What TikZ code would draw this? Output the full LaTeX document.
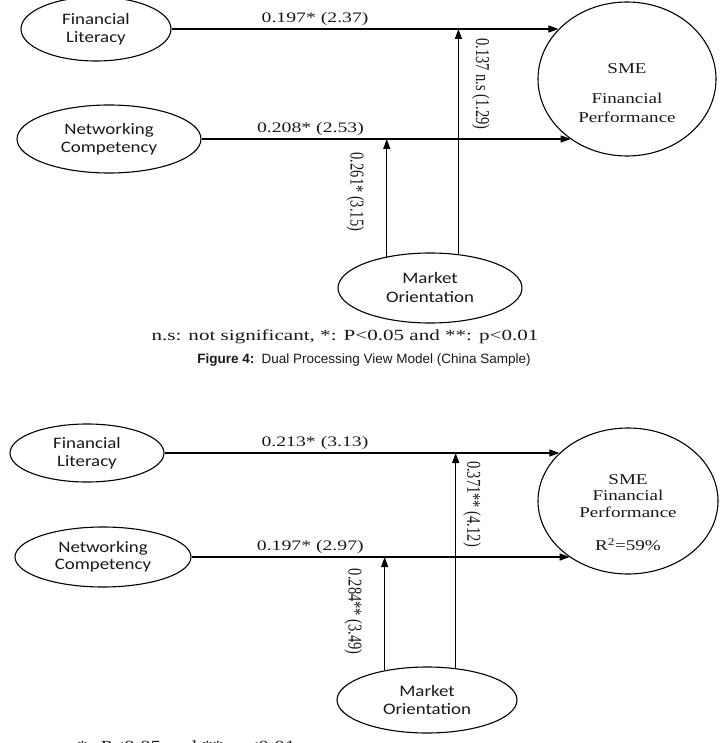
\documentclass[tikz,border=0pt]{standalone}
\usepackage{graphicx}
\usepackage{fontspec}
\setmainfont{Liberation Serif}
\newfontfamily\calfont{Carlito}
\newfontfamily\capfont{Liberation Sans}
\usetikzlibrary{arrows.meta,shapes.geometric}
% the figure image is stretched sideways, so its texts are too
\newcommand{\cw}[1]{\scalebox{1.18}[1]{#1}}
\newcommand{\sw}[1]{\scalebox{1.36}[1]{#1}}
\newcommand{\tw}[1]{\scalebox{1}[1.35]{#1}}

\begin{document}
\begin{tikzpicture}[
  x=1pt,y=-1pt,
  var/.style={draw,ellipse,line width=1.1pt,inner sep=0pt,align=center,text=black!90,font=\calfont\fontsize{16}{18}\selectfont},
  dv/.style={draw,ellipse,line width=1.1pt,inner sep=0pt,text=black!90,text height=0pt},
  coef/.style={font=\fontsize{14.5}{17}\selectfont,text=black!90,inner sep=2.5pt},
  vcoef/.style={coef,rotate=-90},
  note/.style={font=\fontsize{15.5}{18}\selectfont,text=black!90,inner sep=0pt},
  figcap/.style={font=\capfont\fontsize{13.5}{16}\selectfont,text=black!90,inner sep=0pt},
  arr/.style={-{Triangle[length=10pt,width=7pt]},line width=1.1pt}
]
\clip (0,0) rectangle (726,743);

% China sample
\node[var,minimum width=150pt,minimum height=64pt] (fl1) at (96,29) {\cw{Financial}\\\cw{Literacy}};
\node[var,minimum width=184pt,minimum height=68pt] (nc1) at (109,139) {\cw{Networking}\\\cw{Competency}};
\node[var,minimum width=184pt,minimum height=70pt,font=\calfont\fontsize{16}{19}\selectfont] (mo1) at (430,288) {\cw{Market}\\\cw{Orientation}};
\node[dv,minimum width=178pt,minimum height=154pt,text depth=10pt,font=\fontsize{15}{19}\selectfont] (sme1) at (627,79)
  {\scalebox{1.27}[1]{\begin{tabular}[t]{@{}c@{}}SME\\[11pt]Financial\\Performance\end{tabular}}};

\draw[arr] (fl1.east) -- (fl1.east -| sme1.144) node[coef,above,pos=0.371] (c1) {\sw{0.197* (2.37)}};
\draw[arr] (nc1.east) -- (nc1.east -| sme1.227) node[coef,above,pos=0.295] (c2) {\sw{0.208* (2.53)}};
\draw[arr] (mo1.50) -- (mo1.50 |- fl1.east) node[vcoef,anchor=south,inner ysep=13pt,pos=0.756] (c3) {\tw{0.137 n.s (1.29)}};
\draw[arr] (mo1.144) -- (mo1.144 |- nc1.east) node[vcoef,anchor=north,inner ysep=22pt,pos=0.55] (c4) {\tw{0.261* (3.15)}};

\node[note,anchor=base] (ns1) at (345,340) {\sw{n.s: not significant, *: P<0.05 and **: p<0.01}};
\node[figcap,anchor=base] (fig4) at (364,363) {\textbf{Figure 4:}\, Dual Processing View Model (China Sample)};

% second sample
\node[var,minimum width=154pt,minimum height=58pt] (fl2) at (87,453) {\cw{Financial}\\\cw{Literacy}};
\node[var,minimum width=176pt,minimum height=60pt,font=\calfont\fontsize{16}{17}\selectfont] (nc2) at (103,557) {\cw{Networking}\\\cw{Competency}};
\node[var,minimum width=180pt,minimum height=66pt] (mo2) at (427,700) {\cw{Market}\\\cw{Orientation}};
\node[dv,minimum width=180pt,minimum height=146pt,text depth=34pt,font=\fontsize{15}{16.5}\selectfont] (sme2) at (628,501)
  {\scalebox{1.27}[1]{\begin{tabular}[t]{@{}c@{}}SME\\Financial\\Performance\\[16.5pt]R\textsuperscript{2}=59\%\end{tabular}}};

\draw[arr] (fl2.east) -- (fl2.east -| sme2.145) node[coef,above,pos=0.381] (c5) {\sw{0.213* (3.13)}};
\draw[arr] (nc2.east) -- (nc2.east -| sme2.224) node[coef,above,pos=0.314] (c6) {\sw{0.197* (2.97)}};
\draw[arr] (mo2.48) -- (mo2.48 |- fl2.east) node[vcoef,anchor=south,inner ysep=7pt,pos=0.763] (c7) {\tw{0.371** (4.12)}};
\draw[arr] (mo2.145) -- (mo2.145 |- nc2.east) node[vcoef,anchor=north,inner ysep=22pt,pos=0.516] (c8) {\tw{0.284** (3.49)}};

\node[note,anchor=base west] (ns2) at (77,751) {\sw{*: P<0.05 and **: p<0.01}};
\end{tikzpicture}
\end{document}
